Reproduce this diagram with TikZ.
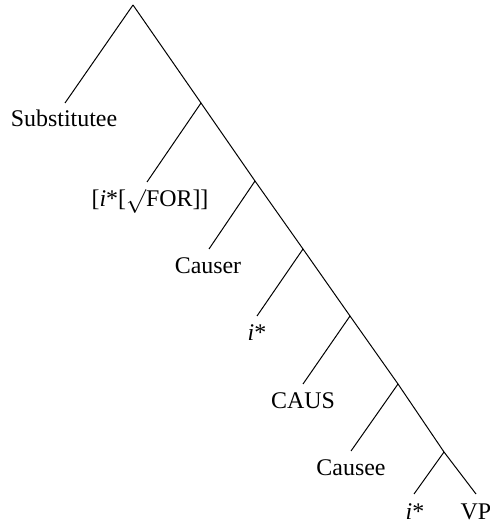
\documentclass[tikz,border=0pt]{standalone}
\usepackage{fontspec}
\setmainfont{Liberation Serif}
\begin{document}
\begin{tikzpicture}[x=0.5bp,y=-0.5bp,
  edge/.style={line width=0.5pt},
  lab/.style={anchor=base,inner sep=0pt,font=\fontsize{12}{14}\selectfont}]
\useasboundingbox (0,0) rectangle (490,525);
% internal nodes
\coordinate (r)  at (133,5);
\coordinate (n1) at (201,103);
\coordinate (n2) at (255,181);
\coordinate (n3) at (303,249);
\coordinate (n4) at (350,316);
\coordinate (n5) at (398,384);
\coordinate (n6) at (444,452);
% leaf line ends
\coordinate (l0) at (65,103);
\coordinate (l1) at (147,182);
\coordinate (l2) at (209,249);
\coordinate (l3) at (257,316);
\coordinate (l4) at (303,384);
\coordinate (l5) at (351,451);
\coordinate (l6) at (414,494);
\coordinate (l7) at (476,494);
% labels
\node[lab] (t0) at (64,127) {Substitutee};
\node[lab] (t1) at (150,207) {[\textit{i}*[$\surd$FOR]]};
\node[lab] (t2) at (208,273) {Causer};
\node[lab] (t3) at (257,340) {\textit{i}*};
\node[lab] (t4) at (303,408) {CAUS};
\node[lab] (t5) at (351,475) {Causee};
\node[lab] (t6) at (415,519) {\textit{i}*};
\node[lab] (t7) at (476,519) {VP};
% edges
\draw[edge] (r) -- (n1) -- (n2) -- (n3) -- (n4) -- (n5) -- (n6) -- (l7);
\draw[edge] (r) -- (l0);
\draw[edge] (n1) -- (l1);
\draw[edge] (n2) -- (l2);
\draw[edge] (n3) -- (l3);
\draw[edge] (n4) -- (l4);
\draw[edge] (n5) -- (l5);
\draw[edge] (n6) -- (l6);
\end{tikzpicture}
\end{document}
